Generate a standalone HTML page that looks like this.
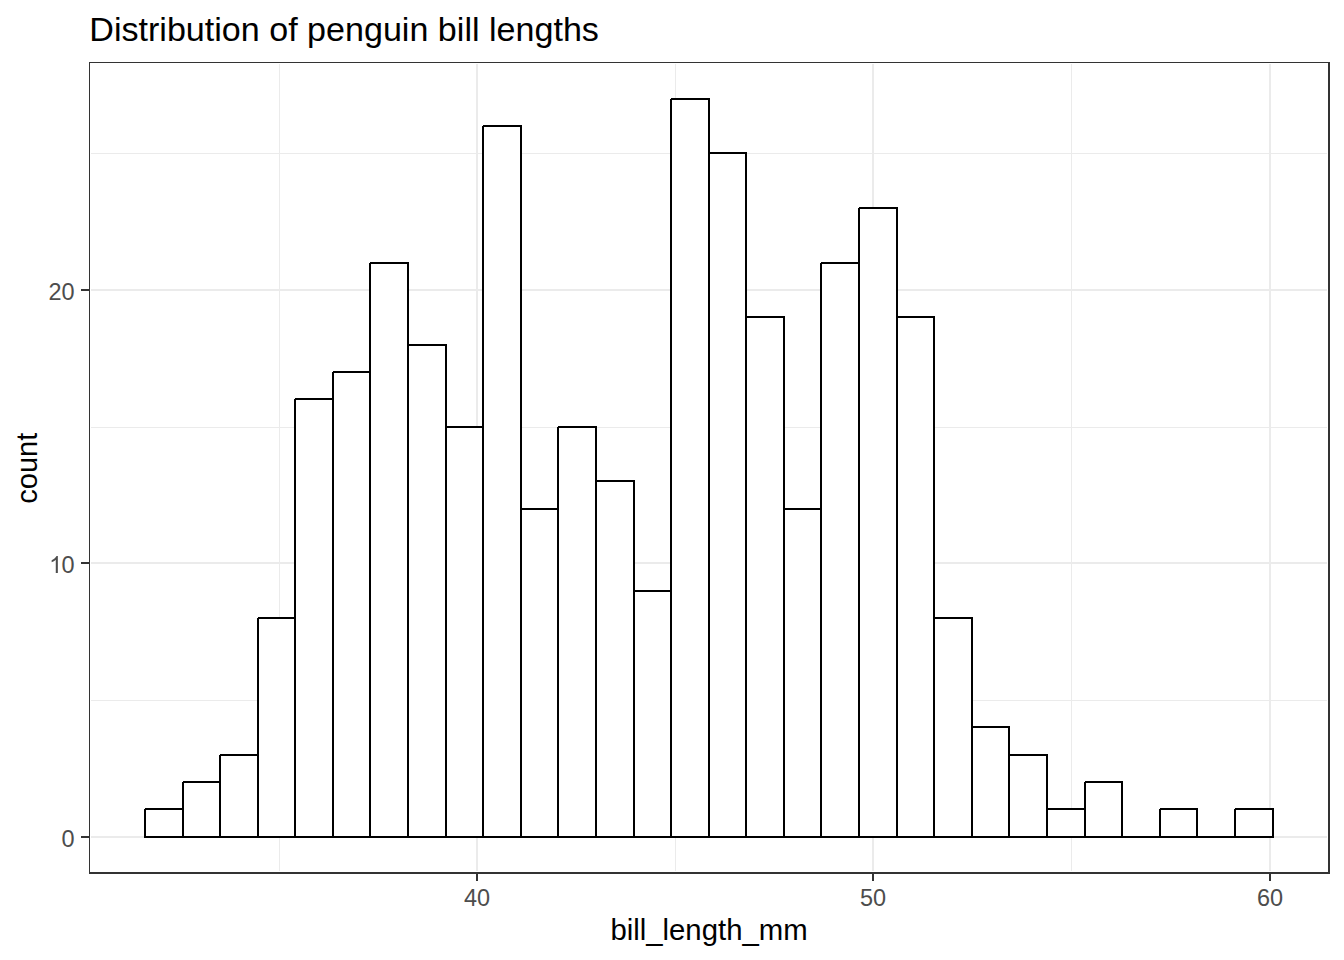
<!DOCTYPE html>
<html><head><meta charset="utf-8">
<style>
html,body{margin:0;padding:0;background:#fff;}
body{width:1344px;height:960px;overflow:hidden;position:relative;}
svg{position:absolute;left:0;top:0;}
.t{font-family:"Liberation Sans",sans-serif;}
</style></head>
<body>
<svg width="1344" height="960" viewBox="0 0 1344 960" shape-rendering="crispEdges">
<rect x="0" y="0" width="1344" height="960" fill="#fff"/>
<rect x="279" y="64" width="1" height="807" fill="#EBEBEB"/>
<rect x="675" y="64" width="1" height="807" fill="#EBEBEB"/>
<rect x="1071" y="64" width="1" height="807" fill="#EBEBEB"/>
<rect x="91" y="153" width="1236" height="1" fill="#EBEBEB"/>
<rect x="91" y="427" width="1236" height="1" fill="#EBEBEB"/>
<rect x="91" y="700" width="1236" height="1" fill="#EBEBEB"/>
<rect x="476" y="64" width="2" height="807" fill="#EBEBEB"/>
<rect x="872" y="64" width="2" height="807" fill="#EBEBEB"/>
<rect x="1269" y="64" width="2" height="807" fill="#EBEBEB"/>
<rect x="91" y="836" width="1236" height="2" fill="#EBEBEB"/>
<rect x="91" y="562" width="1236" height="2" fill="#EBEBEB"/>
<rect x="91" y="289" width="1236" height="2" fill="#EBEBEB"/>
<rect x="145" y="809" width="38" height="28" fill="#fff"/>
<rect x="145" y="808" width="39" height="2" fill="#000"/>
<rect x="144" y="809" width="2" height="29" fill="#000"/>
<rect x="182" y="808" width="2" height="30" fill="#000"/>
<rect x="144" y="836" width="40" height="2" fill="#000"/>
<rect x="183" y="782" width="37" height="55" fill="#fff"/>
<rect x="183" y="781" width="38" height="2" fill="#000"/>
<rect x="182" y="782" width="2" height="56" fill="#000"/>
<rect x="219" y="781" width="2" height="57" fill="#000"/>
<rect x="182" y="836" width="39" height="2" fill="#000"/>
<rect x="220" y="755" width="38" height="82" fill="#fff"/>
<rect x="220" y="754" width="39" height="2" fill="#000"/>
<rect x="219" y="755" width="2" height="83" fill="#000"/>
<rect x="257" y="754" width="2" height="84" fill="#000"/>
<rect x="219" y="836" width="40" height="2" fill="#000"/>
<rect x="258" y="618" width="37" height="219" fill="#fff"/>
<rect x="258" y="617" width="38" height="2" fill="#000"/>
<rect x="257" y="618" width="2" height="220" fill="#000"/>
<rect x="294" y="617" width="2" height="221" fill="#000"/>
<rect x="257" y="836" width="39" height="2" fill="#000"/>
<rect x="295" y="399" width="38" height="438" fill="#fff"/>
<rect x="295" y="398" width="39" height="2" fill="#000"/>
<rect x="294" y="399" width="2" height="439" fill="#000"/>
<rect x="332" y="398" width="2" height="440" fill="#000"/>
<rect x="294" y="836" width="40" height="2" fill="#000"/>
<rect x="333" y="372" width="37" height="465" fill="#fff"/>
<rect x="333" y="371" width="38" height="2" fill="#000"/>
<rect x="332" y="372" width="2" height="466" fill="#000"/>
<rect x="369" y="371" width="2" height="467" fill="#000"/>
<rect x="332" y="836" width="39" height="2" fill="#000"/>
<rect x="370" y="263" width="38" height="574" fill="#fff"/>
<rect x="370" y="262" width="39" height="2" fill="#000"/>
<rect x="369" y="263" width="2" height="575" fill="#000"/>
<rect x="407" y="262" width="2" height="576" fill="#000"/>
<rect x="369" y="836" width="40" height="2" fill="#000"/>
<rect x="408" y="345" width="38" height="492" fill="#fff"/>
<rect x="408" y="344" width="39" height="2" fill="#000"/>
<rect x="407" y="345" width="2" height="493" fill="#000"/>
<rect x="445" y="344" width="2" height="494" fill="#000"/>
<rect x="407" y="836" width="40" height="2" fill="#000"/>
<rect x="446" y="427" width="37" height="410" fill="#fff"/>
<rect x="446" y="426" width="38" height="2" fill="#000"/>
<rect x="445" y="427" width="2" height="411" fill="#000"/>
<rect x="482" y="426" width="2" height="412" fill="#000"/>
<rect x="445" y="836" width="39" height="2" fill="#000"/>
<rect x="483" y="126" width="38" height="711" fill="#fff"/>
<rect x="483" y="125" width="39" height="2" fill="#000"/>
<rect x="482" y="126" width="2" height="712" fill="#000"/>
<rect x="520" y="125" width="2" height="713" fill="#000"/>
<rect x="482" y="836" width="40" height="2" fill="#000"/>
<rect x="521" y="509" width="37" height="328" fill="#fff"/>
<rect x="521" y="508" width="38" height="2" fill="#000"/>
<rect x="520" y="509" width="2" height="329" fill="#000"/>
<rect x="557" y="508" width="2" height="330" fill="#000"/>
<rect x="520" y="836" width="39" height="2" fill="#000"/>
<rect x="558" y="427" width="38" height="410" fill="#fff"/>
<rect x="558" y="426" width="39" height="2" fill="#000"/>
<rect x="557" y="427" width="2" height="411" fill="#000"/>
<rect x="595" y="426" width="2" height="412" fill="#000"/>
<rect x="557" y="836" width="40" height="2" fill="#000"/>
<rect x="596" y="481" width="38" height="356" fill="#fff"/>
<rect x="596" y="480" width="39" height="2" fill="#000"/>
<rect x="595" y="481" width="2" height="357" fill="#000"/>
<rect x="633" y="480" width="2" height="358" fill="#000"/>
<rect x="595" y="836" width="40" height="2" fill="#000"/>
<rect x="634" y="591" width="37" height="246" fill="#fff"/>
<rect x="634" y="590" width="38" height="2" fill="#000"/>
<rect x="633" y="591" width="2" height="247" fill="#000"/>
<rect x="670" y="590" width="2" height="248" fill="#000"/>
<rect x="633" y="836" width="39" height="2" fill="#000"/>
<rect x="671" y="99" width="38" height="738" fill="#fff"/>
<rect x="671" y="98" width="39" height="2" fill="#000"/>
<rect x="670" y="99" width="2" height="739" fill="#000"/>
<rect x="708" y="98" width="2" height="740" fill="#000"/>
<rect x="670" y="836" width="40" height="2" fill="#000"/>
<rect x="709" y="153" width="37" height="684" fill="#fff"/>
<rect x="709" y="152" width="38" height="2" fill="#000"/>
<rect x="708" y="153" width="2" height="685" fill="#000"/>
<rect x="745" y="152" width="2" height="686" fill="#000"/>
<rect x="708" y="836" width="39" height="2" fill="#000"/>
<rect x="746" y="317" width="38" height="520" fill="#fff"/>
<rect x="746" y="316" width="39" height="2" fill="#000"/>
<rect x="745" y="317" width="2" height="521" fill="#000"/>
<rect x="783" y="316" width="2" height="522" fill="#000"/>
<rect x="745" y="836" width="40" height="2" fill="#000"/>
<rect x="784" y="509" width="37" height="328" fill="#fff"/>
<rect x="784" y="508" width="38" height="2" fill="#000"/>
<rect x="783" y="509" width="2" height="329" fill="#000"/>
<rect x="820" y="508" width="2" height="330" fill="#000"/>
<rect x="783" y="836" width="39" height="2" fill="#000"/>
<rect x="821" y="263" width="38" height="574" fill="#fff"/>
<rect x="821" y="262" width="39" height="2" fill="#000"/>
<rect x="820" y="263" width="2" height="575" fill="#000"/>
<rect x="858" y="262" width="2" height="576" fill="#000"/>
<rect x="820" y="836" width="40" height="2" fill="#000"/>
<rect x="859" y="208" width="38" height="629" fill="#fff"/>
<rect x="859" y="207" width="39" height="2" fill="#000"/>
<rect x="858" y="208" width="2" height="630" fill="#000"/>
<rect x="896" y="207" width="2" height="631" fill="#000"/>
<rect x="858" y="836" width="40" height="2" fill="#000"/>
<rect x="897" y="317" width="37" height="520" fill="#fff"/>
<rect x="897" y="316" width="38" height="2" fill="#000"/>
<rect x="896" y="317" width="2" height="521" fill="#000"/>
<rect x="933" y="316" width="2" height="522" fill="#000"/>
<rect x="896" y="836" width="39" height="2" fill="#000"/>
<rect x="934" y="618" width="38" height="219" fill="#fff"/>
<rect x="934" y="617" width="39" height="2" fill="#000"/>
<rect x="933" y="618" width="2" height="220" fill="#000"/>
<rect x="971" y="617" width="2" height="221" fill="#000"/>
<rect x="933" y="836" width="40" height="2" fill="#000"/>
<rect x="972" y="727" width="37" height="110" fill="#fff"/>
<rect x="972" y="726" width="38" height="2" fill="#000"/>
<rect x="971" y="727" width="2" height="111" fill="#000"/>
<rect x="1008" y="726" width="2" height="112" fill="#000"/>
<rect x="971" y="836" width="39" height="2" fill="#000"/>
<rect x="1009" y="755" width="38" height="82" fill="#fff"/>
<rect x="1009" y="754" width="39" height="2" fill="#000"/>
<rect x="1008" y="755" width="2" height="83" fill="#000"/>
<rect x="1046" y="754" width="2" height="84" fill="#000"/>
<rect x="1008" y="836" width="40" height="2" fill="#000"/>
<rect x="1047" y="809" width="38" height="28" fill="#fff"/>
<rect x="1047" y="808" width="39" height="2" fill="#000"/>
<rect x="1046" y="809" width="2" height="29" fill="#000"/>
<rect x="1084" y="808" width="2" height="30" fill="#000"/>
<rect x="1046" y="836" width="40" height="2" fill="#000"/>
<rect x="1085" y="782" width="37" height="55" fill="#fff"/>
<rect x="1085" y="781" width="38" height="2" fill="#000"/>
<rect x="1084" y="782" width="2" height="56" fill="#000"/>
<rect x="1121" y="781" width="2" height="57" fill="#000"/>
<rect x="1084" y="836" width="39" height="2" fill="#000"/>
<rect x="1121" y="836" width="39" height="2" fill="#000"/>
<rect x="1160" y="809" width="37" height="28" fill="#fff"/>
<rect x="1160" y="808" width="38" height="2" fill="#000"/>
<rect x="1159" y="809" width="2" height="29" fill="#000"/>
<rect x="1196" y="808" width="2" height="30" fill="#000"/>
<rect x="1159" y="836" width="39" height="2" fill="#000"/>
<rect x="1196" y="836" width="39" height="2" fill="#000"/>
<rect x="1235" y="809" width="38" height="28" fill="#fff"/>
<rect x="1235" y="808" width="39" height="2" fill="#000"/>
<rect x="1234" y="809" width="2" height="29" fill="#000"/>
<rect x="1272" y="808" width="2" height="30" fill="#000"/>
<rect x="1234" y="836" width="40" height="2" fill="#000"/>
<rect x="89" y="62" width="1241" height="1" fill="#333333"/>
<rect x="89" y="62" width="1" height="812" fill="#333333"/>
<rect x="1328" y="62" width="2" height="812" fill="#333333"/>
<rect x="89" y="872" width="1241" height="2" fill="#333333"/>
<rect x="476" y="874" width="2" height="7" fill="#333333"/>
<rect x="872" y="874" width="2" height="7" fill="#333333"/>
<rect x="1269" y="874" width="2" height="7" fill="#333333"/>
<rect x="81" y="836" width="8" height="2" fill="#333333"/>
<rect x="81" y="562" width="8" height="2" fill="#333333"/>
<rect x="81" y="289" width="8" height="2" fill="#333333"/>
<g class="t" shape-rendering="auto">
<text x="89.3" y="40.8" font-size="34.1" fill="#000">Distribution of penguin bill lengths</text>
<text x="74.6" y="300" font-size="23.47" fill="#4D4D4D" text-anchor="end">20</text>
<text x="74.6" y="573" font-size="23.47" fill="#4D4D4D" text-anchor="end">0</text>
<path transform="translate(49.1,572.9) scale(0.011460,-0.011460)" fill="#4D4D4D" d="M763,0 L583,0 L583,1147 Q518,1085 415,1024.5 Q312,964 223,931 L223,1105 Q385,1181 495.5,1280.5 Q606,1380 653,1472 L763,1472 Z"/>
<text x="74.6" y="847" font-size="23.47" fill="#4D4D4D" text-anchor="end">0</text>
<text x="477" y="906" font-size="23.47" fill="#4D4D4D" text-anchor="middle">40</text>
<text x="873" y="906" font-size="23.47" fill="#4D4D4D" text-anchor="middle">50</text>
<text x="1270" y="906" font-size="23.47" fill="#4D4D4D" text-anchor="middle">60</text>
<text x="709" y="940" font-size="29.33" fill="#000" text-anchor="middle">bill_length_mm</text>
<text transform="translate(37.2,468.2) rotate(-90)" x="0" y="0" font-size="29" fill="#000" text-anchor="middle">count</text>
</g>
</svg>
</body></html>
